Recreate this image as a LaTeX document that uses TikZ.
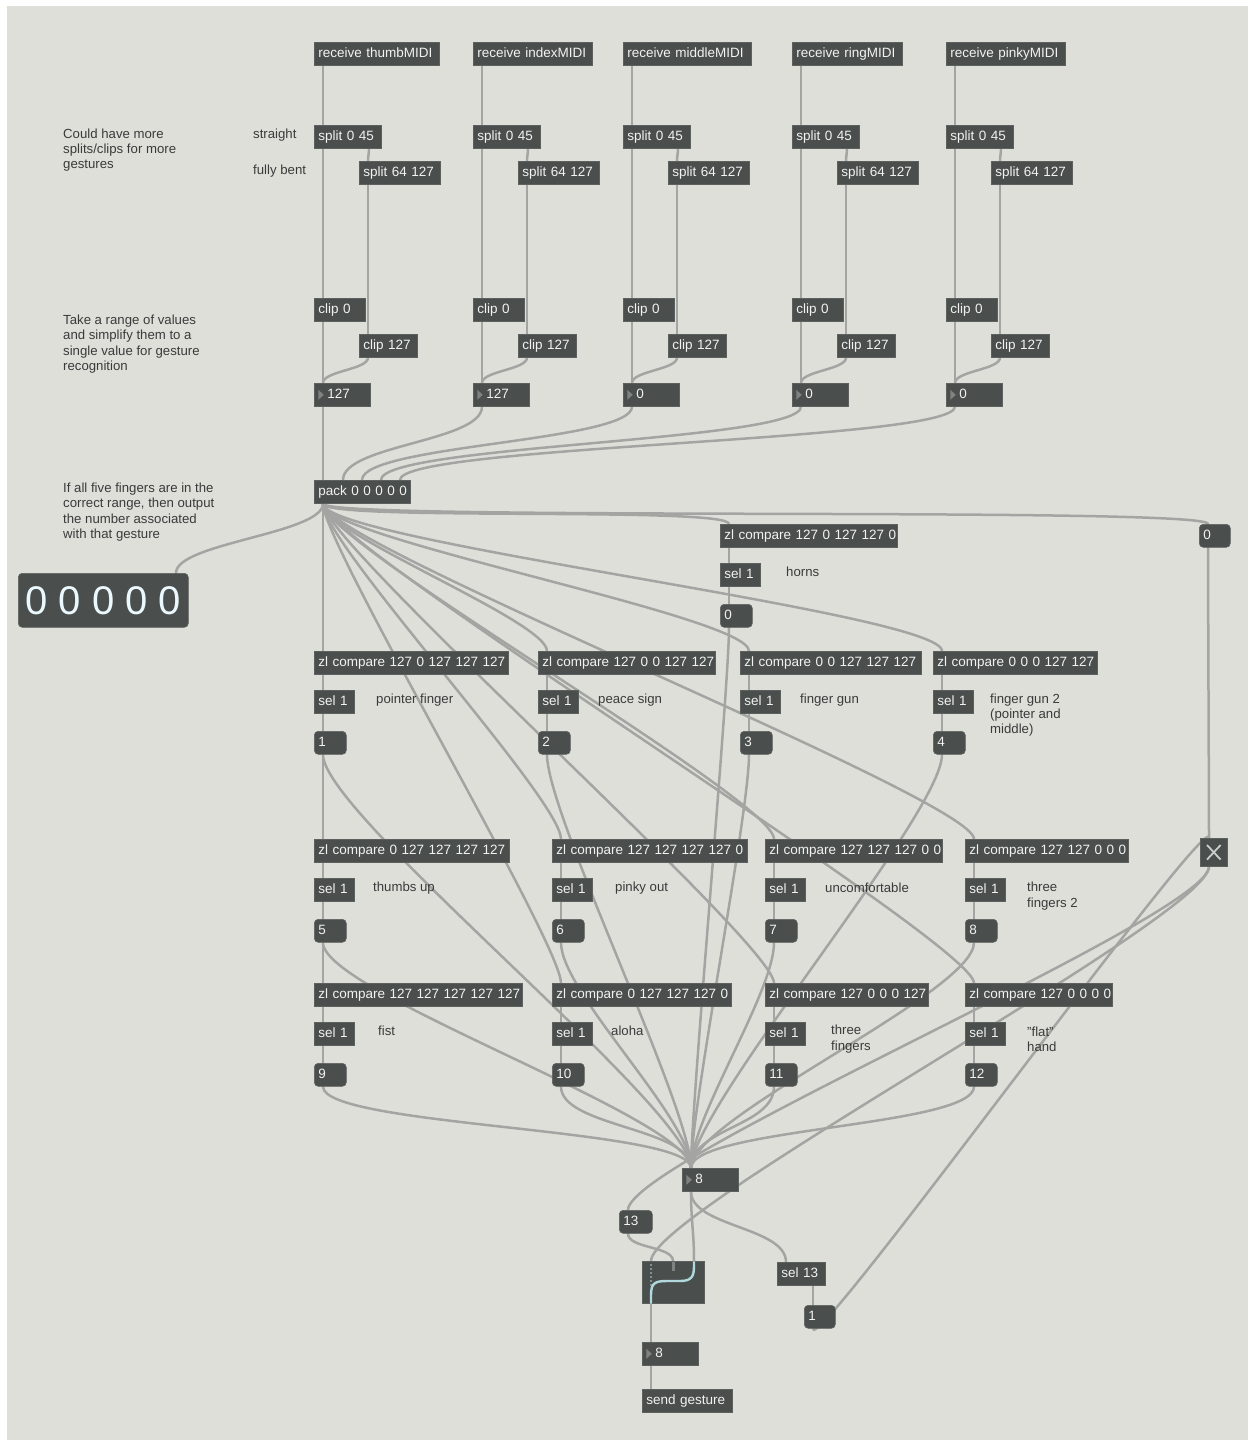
\documentclass[tikz,border=0pt]{standalone}
\usepackage{fontspec}
\setmainfont{Liberation Sans}
\usetikzlibrary{calc}

\definecolor{canvas}{HTML}{DFDFDA}
\definecolor{boxfill}{HTML}{4A4F4D}
\definecolor{boxline}{HTML}{5C605E}
\definecolor{cordgray}{HTML}{A4A5A2}
\definecolor{inktext}{HTML}{3A3A3A}
\definecolor{boxtext}{HTML}{F2F2F2}
\definecolor{trigray}{HTML}{7E8381}
\definecolor{switchline}{HTML}{B0D8DD}
\definecolor{xgray}{HTML}{C9CDCC}

\pgfdeclarelayer{paper}
\pgfdeclarelayer{cords}
\pgfsetlayers{paper,cords,main}

% patch cord from an outlet (bottom of node #2, #3 pt from its left edge)
% to an inlet (top of node #4, #5 pt from its left edge); #1 = bend length
\newcommand\patchcord[5][30]{\draw[cord] ([xshift=#3 pt]#2.south west) .. controls +(0,#1) and +(0,-#1) .. ([xshift=#5 pt]#4.north west);}

\tikzset{
  box/.style={anchor=north west, fill=boxfill, draw=boxline, line width=0.6pt,
    minimum height=23pt, inner xsep=0pt, inner ysep=0pt, text=boxtext,
    font=\fontsize{13.5}{13.5}\selectfont, text height=9.3pt, text depth=2.6pt},
  obj/.style={box, text width=#1 pt, align=left,
    execute at begin node={\hspace*{4pt}}},
  msg/.style={obj=#1, rounded corners=4pt},
  num/.style={box, text width=#1 pt, align=left,
    execute at begin node={\hspace*{13pt}},
    path picture={\fill[trigray]
      ([xshift=4pt,yshift=5pt]path picture bounding box.west) --
      ([xshift=9.5pt]path picture bounding box.west) --
      ([xshift=4pt,yshift=-5pt]path picture bounding box.west) -- cycle;}},
  note/.style={anchor=west, inner sep=0pt, text=inktext,
    font=\fontsize{13.2}{15.3}\selectfont, align=left},
  cord/.style={draw=cordgray, line width=2.5pt, line cap=round},
  swline/.style={draw=switchline, line width=2.4pt, line cap=round},
}

\begin{document}
\begin{tikzpicture}[x=1pt,y=-1pt]
\useasboundingbox (0,0) rectangle (1255,1444);
\begin{pgfonlayer}{paper}
  \fill[white] (0,0) rectangle (1255,1444);
  \fill[canvas] (7,6) rectangle (1248,1440);
\end{pgfonlayer}

% ---------- comments ----------
\node[note] (cm1) at (63,150) {Could have more\\splits/clips for more\\gestures};
\node[note] (cm2) at (63,344) {Take a range of values\\and simplify them to a\\single value for gesture\\recognition};
\node[note] (cm3) at (63,512) {If all five fingers are in the\\correct range, then output\\the number associated\\with that gesture};
\node[note] (lstr) at (253,135) {straight};
\node[note] (lbent) at (253,171) {fully bent};

% ---------- collector ----------
\node[obj=96] (pack) at (314,480) {pack 0 0 0 0 0};
\node[box, rounded corners=4pt, minimum width=170pt, minimum height=54pt,
      font=\fontsize{40}{40}\selectfont, text height=29pt, text depth=0pt,
      text=white!92!cyan] (disp) at (18,573) {0 0 0 0 0};

% ---------- one column per finger ----------
\foreach \n/\x/\w/\lab/\v in {thumb/314/125/thumbMIDI/127, index/473/119/indexMIDI/127,
    middle/623/128/middleMIDI/0, ring/792/110/ringMIDI/0, pinky/946/119/pinkyMIDI/0}
{
  \node[obj=\w] (rcv\n) at (\x,42) {receive \lab};
  \node[obj=67] (spa\n) at (\x,125) {split 0 45};
  \node[obj=81] (spb\n) at (\x+45,161) {split 64 127};
  \node[obj=51] (cla\n) at (\x,298) {clip 0};
  \node[obj=58] (clb\n) at (\x+45,334) {clip 127};
  \node[num=56] (nb\n) at (\x,383) {\v};
}

% ---------- gesture detectors ----------
\foreach \i/\x/\y/\w/\spec in {
    0/720/524/177/{127 0 127 127 0},
    1/314/651/194/{127 0 127 127 127},
    2/538/651/177/{127 0 0 127 127},
    3/740/651/181/{0 0 127 127 127},
    4/933/651/164/{0 0 0 127 127},
    5/314/839/195/{0 127 127 127 127},
    6/552/839/195/{127 127 127 127 0},
    7/765/839/177/{127 127 127 0 0},
    8/965/839/163/{127 127 0 0 0},
    9/314/983/208/{127 127 127 127 127},
    10/552/983/179/{0 127 127 127 0},
    11/765/983/163/{127 0 0 0 127},
    12/965/983/147/{127 0 0 0 0}}
{
  \node[obj=\w] (cmp\i) at (\x,\y) {zl compare \spec};
  \node[obj=40] (sel\i) at (\x,\y+39) {sel 1};
  \node[msg=32] (msg\i) at (\x,\y+80) {\i};
}

% gesture names
\node[note] (g0) at (786,572) {horns};
\node[note] (g1) at (376,700) {pointer finger};
\node[note] (g2) at (598,700) {peace sign};
\node[note] (g3) at (800,700) {finger gun};
\node[note] (g4) at (990,715) {finger gun 2\\(pointer and\\middle)};
\node[note] (g5) at (373,888) {thumbs up};
\node[note] (g6) at (615,888) {pinky out};
\node[note] (g7) at (825,888) {uncomfortable};
\node[note] (g8) at (1027,896) {three\\fingers 2};
\node[note] (g9) at (378,1031) {fist};
\node[note] (g10) at (611,1031) {aloha};
\node[note] (g11) at (831,1039) {three\\fingers};
\node[note] (g12) at (1027,1039) {"flat"\\hand};

% ---------- reset path on the right ----------
\node[msg=31] (zero) at (1199,524) {0};
\node[box, minimum width=27pt, minimum height=28pt] (tog) at (1200,838) {};
\draw[xgray, line width=1.8pt]
  ([shift={(7pt,-7pt)}]tog.north west) -- ([shift={(-7pt,7pt)}]tog.south east)
  ([shift={(-7pt,-7pt)}]tog.north east) -- ([shift={(7pt,7pt)}]tog.south west);

% ---------- output section ----------
\node[num=56] (numO) at (682,1168) {8};
\node[msg=33] (m13) at (619,1210) {13};
\node[box, minimum width=62pt, minimum height=42pt] (gsw) at (642,1261) {};
\begin{scope}[shift={(gsw.north west)}]
  \foreach \yy in {4,8,...,24} {\fill[switchline] (9,\yy) circle (0.9);}
  \draw[trigray, line width=3pt] (31,1) -- (31,10);
  \draw[swline] (9,42) -- (9,34) .. controls (9,22) and (13,20) .. (25,20)
     -- (38,20) .. controls (50,20) and (52,15) .. (52,5) -- (52,1);
\end{scope}
\node[num=56] (numF) at (642,1342) {8};
\node[obj=90] (send) at (642,1389) {send gesture};
\node[obj=48] (sel13) at (777,1262) {sel 13};
\node[msg=31] (one) at (804,1305) {1};

% ---------- patch cords ----------
\begin{pgfonlayer}{cords}
  \foreach \n/\k in {thumb/9, index/29, middle/48, ring/67, pinky/86}
  {
    \patchcord{rcv\n}{9}{spa\n}{9}
    \patchcord{spa\n}{9}{cla\n}{9}
    \patchcord[5]{spa\n}{55}{spb\n}{9}
    \patchcord{spb\n}{9}{clb\n}{9}
    \patchcord{cla\n}{9}{nb\n}{9}
    \patchcord[12]{clb\n}{9}{nb\n}{9}
    \patchcord[35]{nb\n}{9}{pack}{\k}
  }
  % pack fans out to every detector
  \foreach \i/\d in {0/18, 1/30, 2/30, 3/35, 4/38, 5/30, 6/40, 7/40, 8/40,
                     9/30, 10/40, 11/40, 12/40}
  {
    \patchcord[\d]{pack}{9}{cmp\i}{9}
  }
  \patchcord[18]{pack}{9}{zero}{9}
  \patchcord[30]{pack}{9}{disp}{158}
  % detector chains and their results
  \foreach \i/\d in {0/60, 1/60, 2/60, 3/60, 4/60, 5/50, 6/50, 7/50, 8/50,
                     9/40, 10/40, 11/40, 12/40}
  {
    \patchcord{cmp\i}{9}{sel\i}{9}
    \patchcord{sel\i}{9}{msg\i}{9}
    \patchcord[\d]{msg\i}{9}{numO}{9}
  }
  % output routing
  \patchcord{zero}{9}{tog}{9}
  \patchcord[50]{tog}{9}{gsw}{9}
  \patchcord[50]{tog}{9}{m13}{9}
  \patchcord[30]{one}{9}{tog}{9}
  \patchcord{numO}{9}{gsw}{52}
  \patchcord[35]{numO}{9}{sel13}{9}
  \patchcord[15]{m13}{9}{gsw}{31}
  \patchcord{gsw}{9}{numF}{9}
  \patchcord{numF}{9}{send}{9}
  \patchcord[5]{sel13}{36}{one}{9}
\end{pgfonlayer}
\end{tikzpicture}
\end{document}
